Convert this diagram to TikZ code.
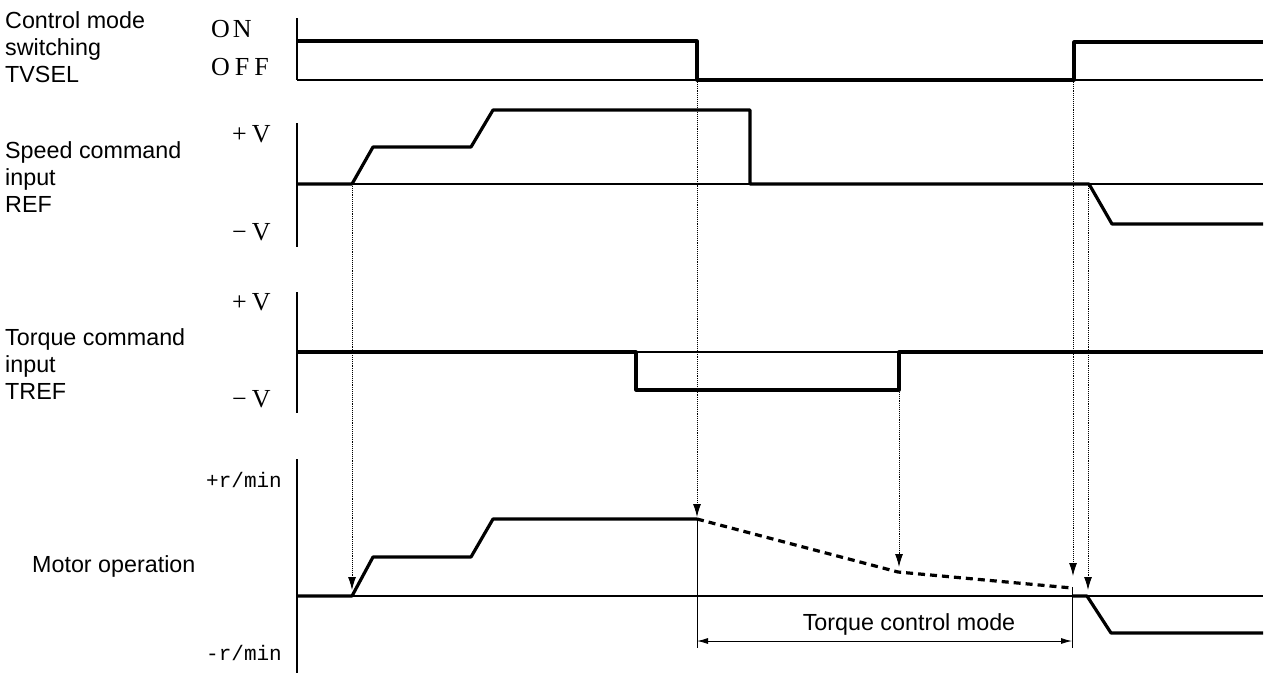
\documentclass[tikz,border=0pt]{standalone}
\usepackage{fontspec}
\setmainfont{Liberation Serif}
\setsansfont{Liberation Sans}
\setmonofont{Liberation Mono}
\usetikzlibrary{arrows.meta}
\begin{document}
\begin{tikzpicture}[x=1pt,y=-1pt,
  lbl/.style={font=\sffamily\fontsize{23.3}{27}\selectfont, align=left, inner sep=0pt, anchor=base west},
  lvl/.style={font=\fontsize{26}{30}\selectfont, inner sep=0pt, anchor=base west},
  rpm/.style={font=\ttfamily\fontsize{21}{26}\selectfont, inner sep=0pt, anchor=base west},
  axisline/.style={line width=1.6pt},
  zeroline/.style={line width=1.4pt},
  sig/.style={line width=3.2pt, line join=round},
  sigdash/.style={line width=3.2pt, dash pattern=on 7pt off 5pt},
  dotarrow/.style={line width=0.9pt, densely dotted, -{Latex[length=13pt,width=8pt]}},
  dimline/.style={line width=0.9pt, {Latex[length=11pt,width=6pt]}-{Latex[length=11pt,width=6pt]}},
  extline/.style={line width=0.9pt},
]
\useasboundingbox (0,0) rectangle (1268,673);

% ---------- left labels (anchor = baseline of last line) ----------
\node[lbl] (lTV) at (5,82) {Control mode\\switching\\TVSEL};
\node[lbl] (lREF) at (5,212) {Speed command\\input\\REF};
\node[lbl] (lTREF) at (5,399) {Torque command\\input\\TREF};
\node[lbl] (lMot) at (32,572) {Motor operation};

% ---------- level labels ----------
\node[lvl] (on) at (211,37) {O\hspace{3pt}N};
\node[lvl] (off) at (211,75) {O\hspace{5pt}F\hspace{5pt}F};
\node[lvl] (rpv) at (232,142) {+\hspace{5pt}V};
\node[lvl] (rmv) at (232,240) {−\hspace{5pt}V};
\node[lvl] (tpv) at (232,310) {+\hspace{5pt}V};
\node[lvl] (tmv) at (232,407) {−\hspace{5pt}V};
\node[rpm] (mp) at (206,487) {+r/min};
\node[rpm] (mm) at (206,660) {-r/min};

% ---------- axes ----------
\draw[axisline] (297,18) -- (297,80);
\draw[axisline] (297,123) -- (297,247);
\draw[axisline] (297,292) -- (297,413);
\draw[axisline] (297,459) -- (297,673);

% ---------- zero lines ----------
\draw[zeroline] (297,80) -- (1263,80);
\draw[zeroline] (297,184) -- (1263,184);
\draw[zeroline] (297,352) -- (1263,352);
\draw[zeroline] (297,596) -- (1263,596);

% ---------- TVSEL ----------
\draw[sig] (297,41) -- (697,41) -- (697,80) -- (1074,80) -- (1074,42) -- (1263,42);

% ---------- REF ----------
\draw[sig] (297,184) -- (352,184) -- (373,147) -- (471,147) -- (493,110) -- (750,110)
  -- (750,184) -- (1089,184) -- (1112,224) -- (1263,224);

% ---------- TREF ----------
\draw[sig] (297,352) -- (636,352) -- (636,390) -- (899,390) -- (899,352) -- (1263,352);

% ---------- Motor ----------
\draw[sig] (297,596) -- (352,596) -- (373,557) -- (471,557) -- (493,519) -- (697,519);
\draw[sigdash] (697,519) -- (898,572) -- (1072,588);
\draw[sig] (1072,596) -- (1087,596) -- (1111,633) -- (1263,633);

% ---------- dotted cause arrows ----------
\coordinate (a1s) at (352,184); \coordinate (a1e) at (352,590);
\coordinate (a2s) at (697,80);  \coordinate (a2e) at (697,517);
\coordinate (a3s) at (899,390); \coordinate (a3e) at (899,567);
\coordinate (a4s) at (1073,80); \coordinate (a4e) at (1073,576);
\coordinate (a5s) at (1088,184); \coordinate (a5e) at (1088,590);
\draw[dotarrow] (a1s) -- (a1e);
\draw[dotarrow] (a2s) -- (a2e);
\draw[dotarrow] (a3s) -- (a3e);
\draw[dotarrow] (a4s) -- (a4e);
\draw[dotarrow] (a5s) -- (a5e);

% ---------- torque control mode dimension ----------
\coordinate (e1t) at (697,520); \coordinate (e1b) at (697,648);
\coordinate (e2t) at (1072,587); \coordinate (e2b) at (1072,648);
\draw[extline] (e1t) -- (e1b);
\draw[extline] (e2t) -- (e2b);
\coordinate (d1) at (697,641); \coordinate (d2) at (1072,641);
\draw[dimline] (d1) -- (d2);
\node[font=\sffamily\fontsize{23.3}{27}\selectfont, inner sep=0pt, anchor=base] (tcm) at (909,630) {Torque control mode};
\end{tikzpicture}
\end{document}
